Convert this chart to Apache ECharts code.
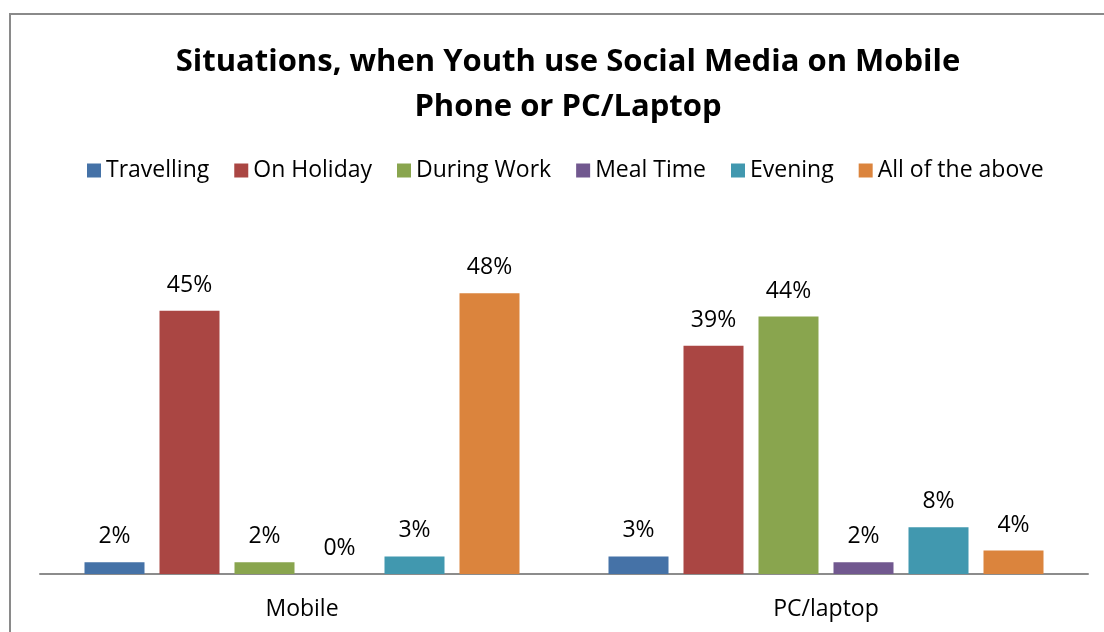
<!DOCTYPE html>
<html>
<head>
<meta charset="utf-8">
<style>
  html, body { margin: 0; padding: 0; background: #ffffff; }
  #chart { width: 1104px; height: 632px; }
</style>
<script src="https://cdn.jsdelivr.net/npm/echarts@6/dist/echarts.min.js"></script>
</head>
<body>
<div id="chart"></div>
<script>
// Devices on the x axis
const categories = ['Mobile', 'PC/laptop'];

// Share of youth (%) per situation, one array per series
const travelling = [2, 3];
const onHoliday = [45, 39];
const duringWork = [2, 44];
const mealTime = [0, 2];
const evening = [3, 8];
const allOfTheAbove = [48, 4];

const seriesNames = ['Travelling', 'On Holiday', 'During Work', 'Meal Time', 'Evening', 'All of the above'];
const seriesValues = [travelling, onHoliday, duringWork, mealTime, evening, allOfTheAbove];
const seriesColors = ['#4572A7', '#AA4643', '#89A54E', '#71588F', '#4198AF', '#DB843D'];

const FONT = '"Open Sans", sans-serif';

const chart = echarts.init(document.getElementById('chart'), null, { renderer: 'canvas' });

chart.setOption({
  backgroundColor: '#ffffff',
  animation: false,
  graphic: [{
    type: 'rect',
    shape: { x: 10, y: 14, width: 1200, height: 700 },
    style: { fill: 'none', stroke: '#8a8a8a', lineWidth: 2 },
    silent: true,
    z: 0
  }],
  title: {
    text: 'Situations, when Youth use Social Media on Mobile\nPhone or PC/Laptop',
    left: 563,
    textAlign: 'center',
    top: 35,
    textStyle: {
      fontFamily: FONT,
      fontWeight: 'bold',
      fontSize: 31,
      lineHeight: 45,
      color: '#000000'
    }
  },
  legend: {
    top: 154,
    left: 82,
    itemWidth: 14,
    itemHeight: 14,
    itemGap: 25,
    icon: 'rect',
    textStyle: { fontFamily: FONT, fontSize: 23, color: '#000000' },
    data: seriesNames
  },
  grid: { left: 40, right: 16, top: 223, bottom: 58, containLabel: false },
  xAxis: {
    type: 'category',
    data: categories,
    axisLine: { show: true, lineStyle: { color: '#8c8c8c', width: 2 } },
    axisTick: { show: false },
    axisLabel: { fontFamily: FONT, fontSize: 23, color: '#000000', margin: 24 },
    splitLine: { show: false }
  },
  yAxis: {
    type: 'value',
    min: 0,
    max: 60,
    interval: 10,
    show: false
  },
  series: seriesNames.map((name, i) => ({
    name: name,
    type: 'bar',
    data: seriesValues[i],
    barWidth: 60,
    barGap: '25%',
    itemStyle: { color: seriesColors[i] },
    label: {
      show: true,
      position: 'top',
      distance: 14,
      formatter: '{c}%',
      fontFamily: FONT,
      fontSize: 23,
      color: '#000000'
    }
  }))
});
</script>
</body>
</html>
